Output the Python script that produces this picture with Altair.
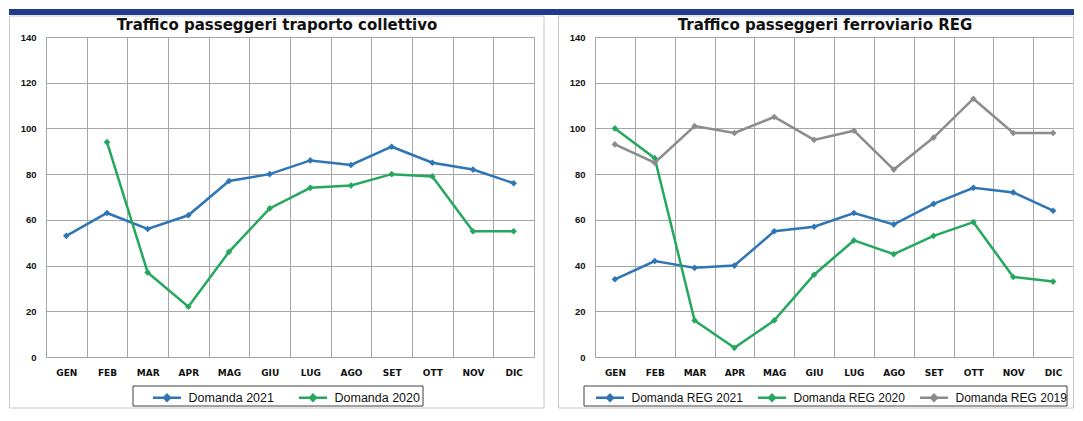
import altair as alt
import pandas as pd

months = ["GEN", "FEB", "MAR", "APR", "MAG", "GIU", "LUG", "AGO", "SET", "OTT", "NOV", "DIC"]

left_title = "Traffico passeggeri traporto collettivo"
left_series = ["Domanda 2021", "Domanda 2020"]
left_2021 = [53, 63, 56, 62, 77, 80, 86, 84, 92, 85, 82, 76]
left_2020 = [None, 94, 37, 22, 46, 65, 74, 75, 80, 79, 55, 55]

right_title = "Traffico passeggeri ferroviario REG"
right_series = ["Domanda REG 2021", "Domanda REG 2020", "Domanda REG 2019"]
reg_2021 = [34, 42, 39, 40, 55, 57, 63, 58, 67, 74, 72, 64]
reg_2020 = [100, 87, 16, 4, 16, 36, 51, 45, 53, 59, 35, 33]
reg_2019 = [93, 85, 101, 98, 105, 95, 99, 82, 96, 113, 98, 98]

y_ticks = [0, 20, 40, 60, 80, 100, 120, 140]

BLUE = "#2E75B6"
GREEN = "#25A85E"
GRAY = "#8C8C8C"
GRID = "#A6A6A6"
BAND = "#1F3A93"
FONT = "Liberation Sans"
TFONT = "DejaVu Sans"

PLOT_H = 320
LEGEND_SYMBOL = "M-2,0H2M0,-0.42L0.42,0L0,0.42L-0.42,0Z"


def long_df(series_names, series_values):
    rows = []
    for name, vals in zip(series_names, series_values):
        for m, v in zip(months, vals):
            rows.append({"month": m, "series": name, "value": v})
    return pd.DataFrame(rows)


def panel(title, series_names, series_values, colors, widths, width, dx,
          band_x, frame_x, box_x, legend_x, col_pad, font_size):
    df = long_df(series_names, series_values)
    one = alt.Data(values=[{"k": 1}])

    band = alt.Chart(one).mark_rect(fill=BAND).encode(
        x=alt.value(band_x[0]), x2=alt.value(band_x[1]),
        y=alt.value(-28), y2=alt.value(-22),
    )
    frame = alt.Chart(one).mark_rect(fill="white", fillOpacity=0, stroke="#C8C8C8", strokeWidth=1).encode(
        x=alt.value(frame_x[0]), x2=alt.value(frame_x[1]),
        y=alt.value(-21), y2=alt.value(371),
    )
    box = alt.Chart(one).mark_rect(fill="white", fillOpacity=0, stroke="#404040", strokeWidth=1).encode(
        x=alt.value(box_x[0]), x2=alt.value(box_x[1]),
        y=alt.value(349), y2=alt.value(369),
    )
    ttl = alt.Chart(one).mark_text(
        font=TFONT, fontSize=15, fontWeight="bold", color="#111111",
        align="center", baseline="alphabetic",
    ).encode(x=alt.value(width / 2 + dx), y=alt.value(-7), text=alt.value(title))

    x_enc = alt.X(
        "month:O", sort=months, title=None,
        scale=alt.Scale(type="band", paddingInner=0, paddingOuter=0),
        axis=alt.Axis(
            labelAngle=0, labelFont=TFONT, labelFontWeight="bold", labelFontSize=9,
            labelColor="#111111", labelPadding=11, ticks=False, tickBand="extent",
            grid=True, gridColor=GRID, gridWidth=1, domainColor=GRID,
        ),
    )
    y_enc = alt.Y(
        "value:Q", title=None,
        scale=alt.Scale(domain=[0, 140], nice=False, zero=True),
        axis=alt.Axis(
            values=y_ticks, labelFont=FONT, labelFontWeight="bold", labelFontSize=9.5,
            labelColor="#111111", labelPadding=10, ticks=False, grid=True,
            gridColor=GRID, gridWidth=1, domainColor=GRID,
        ),
    )
    color_enc = alt.Color(
        "series:N", sort=series_names,
        scale=alt.Scale(domain=series_names, range=colors),
        legend=alt.Legend(
            title=None, orient="none", legendX=legend_x, legendY=352,
            direction="horizontal", columns=len(series_names), columnPadding=col_pad,
            symbolType=LEGEND_SYMBOL, symbolSize=196, symbolStrokeWidth=2.2,
            symbolOffset=5.5, labelOffset=13, padding=0,
            labelFont=FONT, labelFontSize=font_size, labelColor="#111111",
        ),
    )
    sw_enc = alt.StrokeWidth(
        "series:N", scale=alt.Scale(domain=series_names, range=widths), legend=None
    )

    base = alt.Chart(df).encode(x=x_enc, y=y_enc, color=color_enc)
    line = base.mark_line().encode(strokeWidth=sw_enc)
    pts = base.mark_point(shape="diamond", filled=True, size=44, opacity=1)

    return alt.layer(frame, band, box, ttl, line, pts).properties(
        width=width, height=PLOT_H,
    )


left = panel(
    left_title, left_series, [left_2021, left_2020], [BLUE, GREEN], [2.5, 2.5],
    width=488, dx=-13, band_x=(-37, 504), frame_x=(-36.5, 498),
    box_x=(87, 377), legend_x=107, col_pad=20, font_size=12.5,
)
right = panel(
    right_title, right_series, [reg_2021, reg_2020, reg_2019], [BLUE, GREEN, GRAY],
    [2.5, 2.5, 1.6],
    width=478, dx=-9, band_x=(-45, 479), frame_x=(-36.5, 478.5),
    box_x=(-11, 472), legend_x=1, col_pad=10, font_size=12,
)

chart = alt.hconcat(left, right, spacing=61, bounds="flush").resolve_scale(
    color="independent", strokeWidth="independent"
).configure_view(stroke=GRID).configure(background="white", padding=0)

chart.save("out.html", embed_options={"renderer": "svg", "actions": False})
